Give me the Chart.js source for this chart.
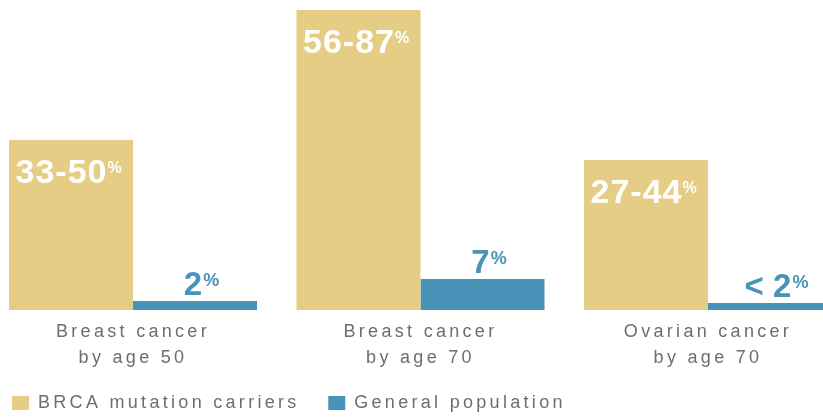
<!DOCTYPE html>
<html><head><meta charset="utf-8">
<script src="https://cdn.jsdelivr.net/npm/chart.js@4"></script>
<style>html,body{margin:0;padding:0;background:#fff;overflow:hidden} #c{display:block}</style>
</head><body>
<canvas id="c" width="823" height="418"></canvas>
<script>
const categories = [['Breast cancer','by age 50'],['Breast cancer','by age 70'],['Ovarian cancer','by age 70']];
const seriesNames = ['BRCA mutation carriers','General population'];
const carrierValues = [49.3, 87, 43.5];
const generalValues = [2.6, 9, 2];
const carrierLabels = ['33-50','56-87','27-44'];
const generalLabels = ['2','7','< 2'];
const GOLD = '#E6CD85', BLUE = '#4A93B8', GRAY = '#6e6e6e';
const SPACING = '3.3px';

const spacingPlugin = {
  id: 'spacing',
  beforeLayout(c) { c.ctx.letterSpacing = SPACING; },
  beforeDraw(c) { c.ctx.letterSpacing = SPACING; }
};

const labelPlugin = {
  id: 'barLabels',
  afterDatasetsDraw(chart) {
    const ctx = chart.ctx;
    ctx.save();
    ctx.textBaseline = 'alphabetic';
    ctx.textAlign = 'left';
    chart.getDatasetMeta(0).data.forEach((bar, i) => {
      const {x, y, width} = bar.getProps(['x', 'y', 'width'], true);
      const left = x - width / 2 + 6.5;
      const base = y + 43;
      ctx.fillStyle = '#ffffff';
      ctx.letterSpacing = '1px';
      ctx.font = 'bold 34px "Liberation Sans", Arial, sans-serif';
      ctx.fillText(carrierLabels[i], left, base);
      const w = ctx.measureText(carrierLabels[i]).width;
      ctx.letterSpacing = '0px';
      ctx.font = 'bold 16px "Liberation Sans", Arial, sans-serif';
      ctx.fillText('%', left + w, base - 10);
    });
    chart.getDatasetMeta(1).data.forEach((bar, i) => {
      const {x, y} = bar.getProps(['x', 'y'], true);
      ctx.fillStyle = BLUE;
      ctx.letterSpacing = '0px';
      ctx.font = 'bold 33px "Liberation Sans", Arial, sans-serif';
      const w1 = ctx.measureText(generalLabels[i]).width;
      ctx.font = 'bold 18px "Liberation Sans", Arial, sans-serif';
      const w2 = ctx.measureText('%').width;
      const start = x + 6 - (w1 + w2) / 2;
      const base = y - 6;
      ctx.font = 'bold 33px "Liberation Sans", Arial, sans-serif';
      ctx.fillText(generalLabels[i], start, base);
      ctx.font = 'bold 18px "Liberation Sans", Arial, sans-serif';
      ctx.fillText('%', start + w1 + 1, base - 9);
    });
    ctx.restore();
  }
};

new Chart(document.getElementById('c'), {
  type: 'bar',
  data: {
    datasets: [
      {label: seriesNames[0], data: carrierValues.map((v, i) => ({x: i, y: v})), backgroundColor: GOLD,
       categoryPercentage: 0.8626, barPercentage: 1, borderWidth: 0},
      {label: seriesNames[1], data: generalValues.map((v, i) => ({x: i, y: v})), backgroundColor: BLUE,
       categoryPercentage: 0.8626, barPercentage: 1, borderWidth: 0}
    ]
  },
  options: {
    responsive: false,
    animation: false,
    devicePixelRatio: 1,
    layout: {padding: {left: 0, right: 0, top: 0, bottom: -4}},
    scales: {
      x: {
        type: 'linear', min: -0.4626, max: 2.4, offset: false,
        grid: {display: false, drawTicks: false}, border: {display: false},
        ticks: {
          stepSize: 1, includeBounds: false, autoSkip: false, maxRotation: 0, minRotation: 0,
          padding: 9, color: GRAY,
          font: {family: '"Liberation Sans"', size: 18, lineHeight: 1.444},
          callback: (v) => categories[v] || ''
        },
        afterFit(s) { s.height = 72; }
      },
      y: {display: false, min: 0, max: 89.9}
    },
    plugins: {
      legend: {
        position: 'bottom', align: 'start',
        labels: {
          boxWidth: 17, boxHeight: 14, padding: 12, color: GRAY,
          font: {family: '"Liberation Sans"', size: 18},
          generateLabels(chart) {
            const items = Chart.defaults.plugins.legend.labels.generateLabels(chart);
            items[0].text = items[0].text + '  ';
            return items;
          }
        }
      },
      tooltip: {enabled: false}
    }
  },
  plugins: [spacingPlugin, labelPlugin]
});
</script>
</body></html>
